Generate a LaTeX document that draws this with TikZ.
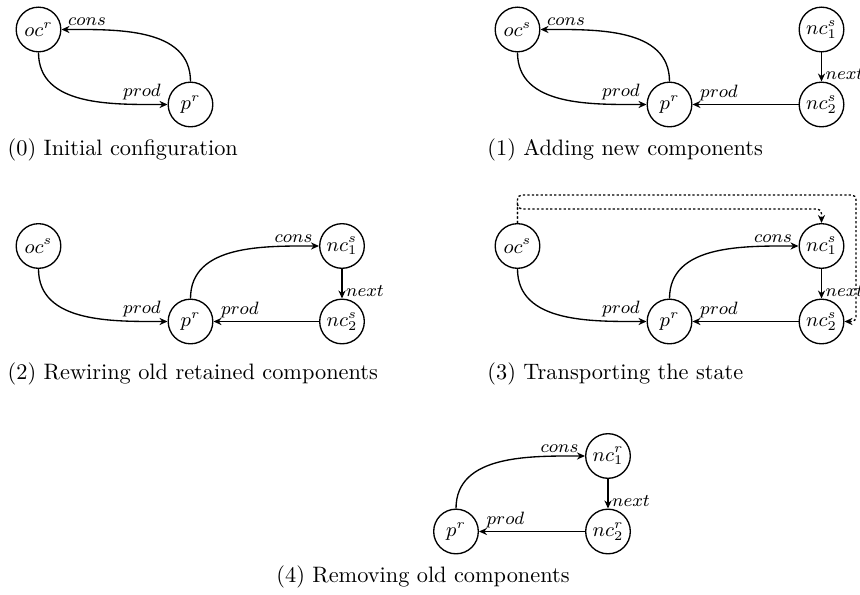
\documentclass[tikz,border=0pt]{standalone}
\usetikzlibrary{arrows.meta}
\begin{document}
\begin{tikzpicture}[x=0.448pt, y=-0.448pt,
  comp/.style={circle, draw, semithick, minimum size=20pt, inner sep=0pt, font=\small},
  link/.style={semithick, -{Stealth[length=3.6pt, width=3.2pt]}},
  transfer/.style={link, dash pattern=on 1pt off 1pt, rounded corners=2pt},
  lbl/.style={font=\footnotesize, inner sep=1.5pt},
  captext/.style={anchor=base west, inner sep=0pt}]
\useasboundingbox (0,0) rectangle (860,595);

% (0) initial configuration
\node[comp] (oc0) at (38.5,29.5) {$oc^r$};
\node[comp] (p0) at (190.5,104.5) {$p^r$};
\draw[link] (oc0.south) to[out=-90, in=180] node[lbl, pos=0.85, above] {$prod$} (p0.west);
\draw[link] (p0.north) to[out=90, in=0] node[lbl, pos=0.85, above] {$cons$} (oc0.east);
\node[captext] (cap0) at (7.3,156) {(0) Initial configuration};

% (1) adding new components
\node[comp] (oc1) at (517.5,29.5) {$oc^s$};
\node[comp] (p1) at (669.5,104.5) {$p^r$};
\node[comp] (na1) at (821.5,29.5) {$nc^s_1$};
\node[comp] (nb1) at (821.5,104.5) {$nc^s_2$};
\draw[link] (oc1.south) to[out=-90, in=180] node[lbl, pos=0.85, above] {$prod$} (p1.west);
\draw[link] (p1.north) to[out=90, in=0] node[lbl, pos=0.85, above] {$cons$} (oc1.east);
\draw[link] (na1.south) -- node[lbl, pos=0.75, right] {$next$} (nb1.north);
\draw[link] (nb1.west) -- node[lbl, pos=0.75, above] {$prod$} (p1.east);
\node[captext] (cap1) at (487,156) {(1) Adding new components};

% (2) rewiring old retained components
\node[comp] (oc2) at (38.5,246) {$oc^s$};
\node[comp] (p2) at (190.5,321.5) {$p^r$};
\node[comp] (na2) at (342,246) {$nc^s_1$};
\node[comp] (nb2) at (342,321.5) {$nc^s_2$};
\draw[link] (oc2.south) to[out=-90, in=180] node[lbl, pos=0.85, above] {$prod$} (p2.west);
\draw[link] (p2.north) to[out=90, in=180] node[lbl, pos=0.85, above] {$cons$} (na2.west);
\draw[link] (na2.south) -- node[lbl, pos=0.75, right] {$next$} (nb2.north);
\draw[link] (nb2.west) -- node[lbl, pos=0.75, above] {$prod$} (p2.east);
\node[captext] (cap2) at (7.3,380) {(2) Rewiring old retained components};

% (3) transporting the state
\node[comp] (oc3) at (517.5,246) {$oc^s$};
\node[comp] (p3) at (669.5,321.5) {$p^r$};
\node[comp] (na3) at (821.5,246) {$nc^s_1$};
\node[comp] (nb3) at (821.5,321.5) {$nc^s_2$};
\draw[link] (oc3.south) to[out=-90, in=180] node[lbl, pos=0.85, above] {$prod$} (p3.west);
\draw[link] (p3.north) to[out=90, in=180] node[lbl, pos=0.85, above] {$cons$} (na3.west);
\draw[link] (na3.south) -- node[lbl, pos=0.75, right] {$next$} (nb3.north);
\draw[link] (nb3.west) -- node[lbl, pos=0.75, above] {$prod$} (p3.east);
\coordinate (inner) at (517.5,209);
\coordinate (outer) at (856,195);
\draw[transfer] (oc3.north) |- (inner) -| (na3.north);
\draw[transfer] (oc3.north) |- (outer) |- (nb3.east);
\node[captext] (cap3) at (487,380) {(3) Transporting the state};

% (4) removing old components
\node[comp] (p4) at (456,531.5) {$p^r$};
\node[comp] (na4) at (608,456) {$nc^r_1$};
\node[comp] (nb4) at (608,531.5) {$nc^r_2$};
\draw[link] (p4.north) to[out=90, in=180] node[lbl, pos=0.85, above] {$cons$} (na4.west);
\draw[link] (na4.south) -- node[lbl, pos=0.75, right] {$next$} (nb4.north);
\draw[link] (nb4.west) -- node[lbl, pos=0.75, above] {$prod$} (p4.east);
\node[captext] (cap4) at (276,583) {(4) Removing old components};
\end{tikzpicture}
\end{document}
